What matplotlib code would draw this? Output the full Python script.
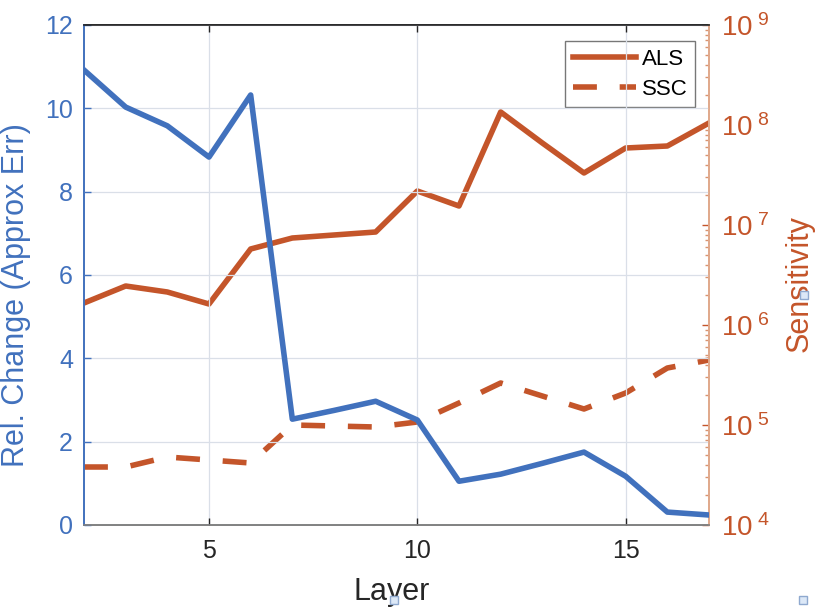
import math
import matplotlib
matplotlib.use("Agg")
import matplotlib.pyplot as plt
from matplotlib.patches import Rectangle
from matplotlib.ticker import LogLocator, FixedLocator, NullFormatter, FuncFormatter

plt.rcParams['font.family'] = ['Liberation Sans', 'DejaVu Sans']
plt.rcParams['mathtext.fontset'] = 'custom'
plt.rcParams['mathtext.rm'] = 'Liberation Sans'
plt.rcParams['mathtext.it'] = 'Liberation Sans'

layers = list(range(2, 18))
rel_change = [10.92, 10.03, 9.58, 8.83, 10.32, 2.54, 2.75, 2.97, 2.52, 1.05, 1.22, 1.48, 1.75, 1.17, 0.31, 0.24]
als_exp = [6.22, 6.39, 6.33, 6.21, 6.76, 6.87, 6.90, 6.93, 7.34, 7.19, 8.13, 7.82, 7.52, 7.77, 7.79, 8.02]
ssc_exp = [4.58, 4.58, 4.68, 4.65, 4.62, 5.00, 4.99, 4.98, 5.03, 5.22, 5.42, 5.29, 5.16, 5.32, 5.57, 5.65]
als = [10 ** e for e in als_exp]
ssc = [10 ** e for e in ssc_exp]
xticks = [5, 10, 15]
left_ticks = [0, 2, 4, 6, 8, 10, 12]
right_ticks = [1e4, 1e5, 1e6, 1e7, 1e8, 1e9]

blue = '#4171BD'
orange = '#C4552A'
dark = '#262626'

fig = plt.figure(figsize=(8.16, 6.10), dpi=100)
ax = fig.add_axes([84/816, 1-525/610, (709-84)/816, 500/610])
ax2 = ax.twinx()

ax.plot(layers, rel_change, color=blue, lw=4, zorder=3)
l1, = ax2.plot(layers, als, color=orange, lw=4, label='ALS')
l2, = ax2.plot(layers, ssc, color=orange, lw=4, dashes=(4.3, 4.1), label='SSC')

ax.set_zorder(ax2.get_zorder() + 1)
ax.patch.set_visible(False)

ax.set_xlim(2, 17)
ax.set_ylim(0, 12)
ax.set_xticks(xticks)
ax.set_yticks(left_ticks)
ax2.set_yscale('log')
ax2.set_ylim(1e4, 1e9)
ax2.yaxis.set_major_locator(FixedLocator(right_ticks))
ax2.yaxis.set_minor_locator(LogLocator(base=10, subs=range(2, 10), numticks=20))
ax2.yaxis.set_minor_formatter(NullFormatter())
ax2.yaxis.set_major_formatter(FuncFormatter(lambda v, p: r'$10^{\,\,%d}$' % round(math.log10(v))))

ax.grid(True, color='#DADFE8', lw=0.9)

ax.tick_params(axis='x', direction='in', length=5, width=1, colors=dark, labelsize=18, top=True, pad=10)
ax.tick_params(axis='y', direction='in', length=5, width=1, colors=blue, labelsize=18, pad=8)
ax2.tick_params(axis='y', which='major', direction='in', length=5, width=1, colors=orange, labelsize=20, pad=8.5)
ax2.tick_params(axis='y', which='minor', direction='in', length=3, width=1, colors='#D9936F')

for a in (ax, ax2):
    a.spines['top'].set_color(dark)
    a.spines['bottom'].set_color('#808080')
    a.spines['left'].set_color(blue)
    a.spines['right'].set_color('#E0A88A')
    for s in a.spines.values():
        s.set_linewidth(1.2)

ax.set_xlabel('Layer', fontsize=22, color=dark)
ax.set_ylabel('Rel. Change (Approx Err)', fontsize=22, color=blue)
ax2.set_ylabel('Sensitivity', fontsize=22, color=orange)
ax.xaxis.set_label_coords(0.493, -0.104)
ax.yaxis.set_label_coords(-0.084, 0.46)
ax2.yaxis.set_label_coords(1.1216, 0.482)

leg = ax2.legend(handles=[l1, l2], loc='upper right', bbox_to_anchor=(0.978, 0.968),
                 fontsize=16, handlelength=2.85, frameon=True, fancybox=False,
                 borderaxespad=0, borderpad=0.35, labelspacing=0.4, handletextpad=0.25)
leg.get_frame().set_edgecolor('#555555')
leg.get_frame().set_linewidth(1.0)

for (px, py) in [(394, 600), (803, 600), (804, 295)]:
    fig.add_artist(Rectangle((px/816 - 4/816, 1 - py/610 - 4/610), 8/816, 8/610,
                             transform=fig.transFigure, facecolor='#DCE8F7', edgecolor='#8FA9CF',
                             lw=1, zorder=10))

fig.savefig('out.png', dpi=100)
